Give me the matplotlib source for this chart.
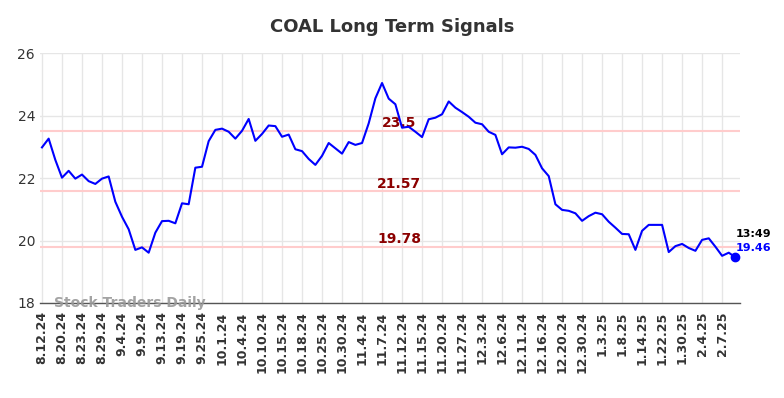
import matplotlib
matplotlib.use("Agg")
import matplotlib.pyplot as plt
import numpy as np

tick_labels = ["8.12.24", "8.20.24", "8.23.24", "8.29.24", "9.4.24", "9.9.24", "9.13.24",
               "9.19.24", "9.25.24", "10.1.24", "10.4.24", "10.10.24", "10.15.24", "10.18.24",
               "10.25.24", "10.30.24", "11.4.24", "11.7.24", "11.12.24", "11.15.24", "11.20.24",
               "11.27.24", "12.3.24", "12.6.24", "12.11.24", "12.16.24", "12.20.24", "12.30.24",
               "1.3.25", "1.8.25", "1.14.25", "1.22.25", "1.30.25", "2.4.25", "2.7.25"]

prices = [22.98, 23.26, 22.58, 22.01, 22.23, 21.98, 22.11, 21.90, 21.81, 21.98,
          22.05, 21.24, 20.76, 20.36, 19.70, 19.78, 19.61, 20.25, 20.62, 20.63,
          20.55, 21.19, 21.16, 22.33, 22.36, 23.18, 23.54, 23.58, 23.48, 23.26,
          23.51, 23.89, 23.19, 23.41, 23.68, 23.66, 23.32, 23.39, 22.92, 22.86,
          22.61, 22.42, 22.71, 23.12, 22.95, 22.78, 23.15, 23.06, 23.12, 23.75,
          24.55, 25.04, 24.54, 24.36, 23.61, 23.64, 23.48, 23.31, 23.88, 23.93,
          24.04, 24.45, 24.25, 24.11, 23.96, 23.77, 23.72, 23.48, 23.38, 22.76,
          22.98, 22.97, 23.00, 22.93, 22.74, 22.31, 22.06, 21.16, 20.98, 20.95,
          20.87, 20.63, 20.78, 20.89, 20.84, 20.60, 20.41, 20.21, 20.20, 19.70,
          20.31, 20.50, 20.50, 20.50, 19.63, 19.82, 19.89, 19.76, 19.67, 20.02,
          20.07, 19.80, 19.51, 19.61, 19.46]

levels = [23.5, 21.57, 19.78]
level_labels = ["23.5", "21.57", "19.78"]
last_time = "13:49"

fig = plt.figure(figsize=(7.84, 3.98), dpi=100)
ax = fig.add_axes([0.051, 0.2387, 0.893, 0.6281])

x = np.arange(len(prices))
tick_pos = np.arange(0, len(tick_labels) * 3, 3)

ax.set_xlim(-0.3, len(prices) - 1 + 0.7)
ax.set_ylim(18, 26)
ax.set_yticks([18, 20, 22, 24, 26])
ax.set_xticks(tick_pos)
ax.set_xticklabels(tick_labels, rotation=90, fontsize=9, fontweight="bold", color="#333333")
ax.tick_params(axis="y", labelsize=10, colors="#333333", length=0)
ax.tick_params(axis="x", length=0, pad=6)

ax.grid(True, color="#e6e6e6", linewidth=1)
ax.set_axisbelow(True)
for s in ["top", "right", "left"]:
    ax.spines[s].set_visible(False)
ax.spines["bottom"].set_color("#555555")
ax.spines["bottom"].set_linewidth(1)

for lv, lb in zip(levels, level_labels):
    ax.axhline(lv, color="#ffcccc", linewidth=1.5, zorder=1)
    ax.text(53.6, lv + 0.03, lb, color="#8b0000", fontsize=10, fontweight="bold",
            ha="center", va="bottom", zorder=3)

ax.plot(x, prices, color="#0000ff", linewidth=1.5, zorder=4)
ax.plot(x[-1], prices[-1], "o", color="#0000ff", markersize=6, zorder=5)

ax.text(x[-1] + 0.1, prices[-1] + 0.58, last_time, color="black", fontsize=8,
        fontweight="bold", ha="left", va="bottom")
ax.text(x[-1] + 0.1, prices[-1] + 0.13, f"{prices[-1]:.2f}", color="#0000ff", fontsize=8,
        fontweight="bold", ha="left", va="bottom")

ax.text(1.8, 18.0, "Stock Traders Daily", color="#999999", fontsize=10, fontweight="bold",
        ha="left", va="center", alpha=0.9)

fig.suptitle("COAL Long Term Signals", fontsize=13, fontweight="bold", color="#333333",
             y=0.955)

fig.savefig("out.png", dpi=100)
